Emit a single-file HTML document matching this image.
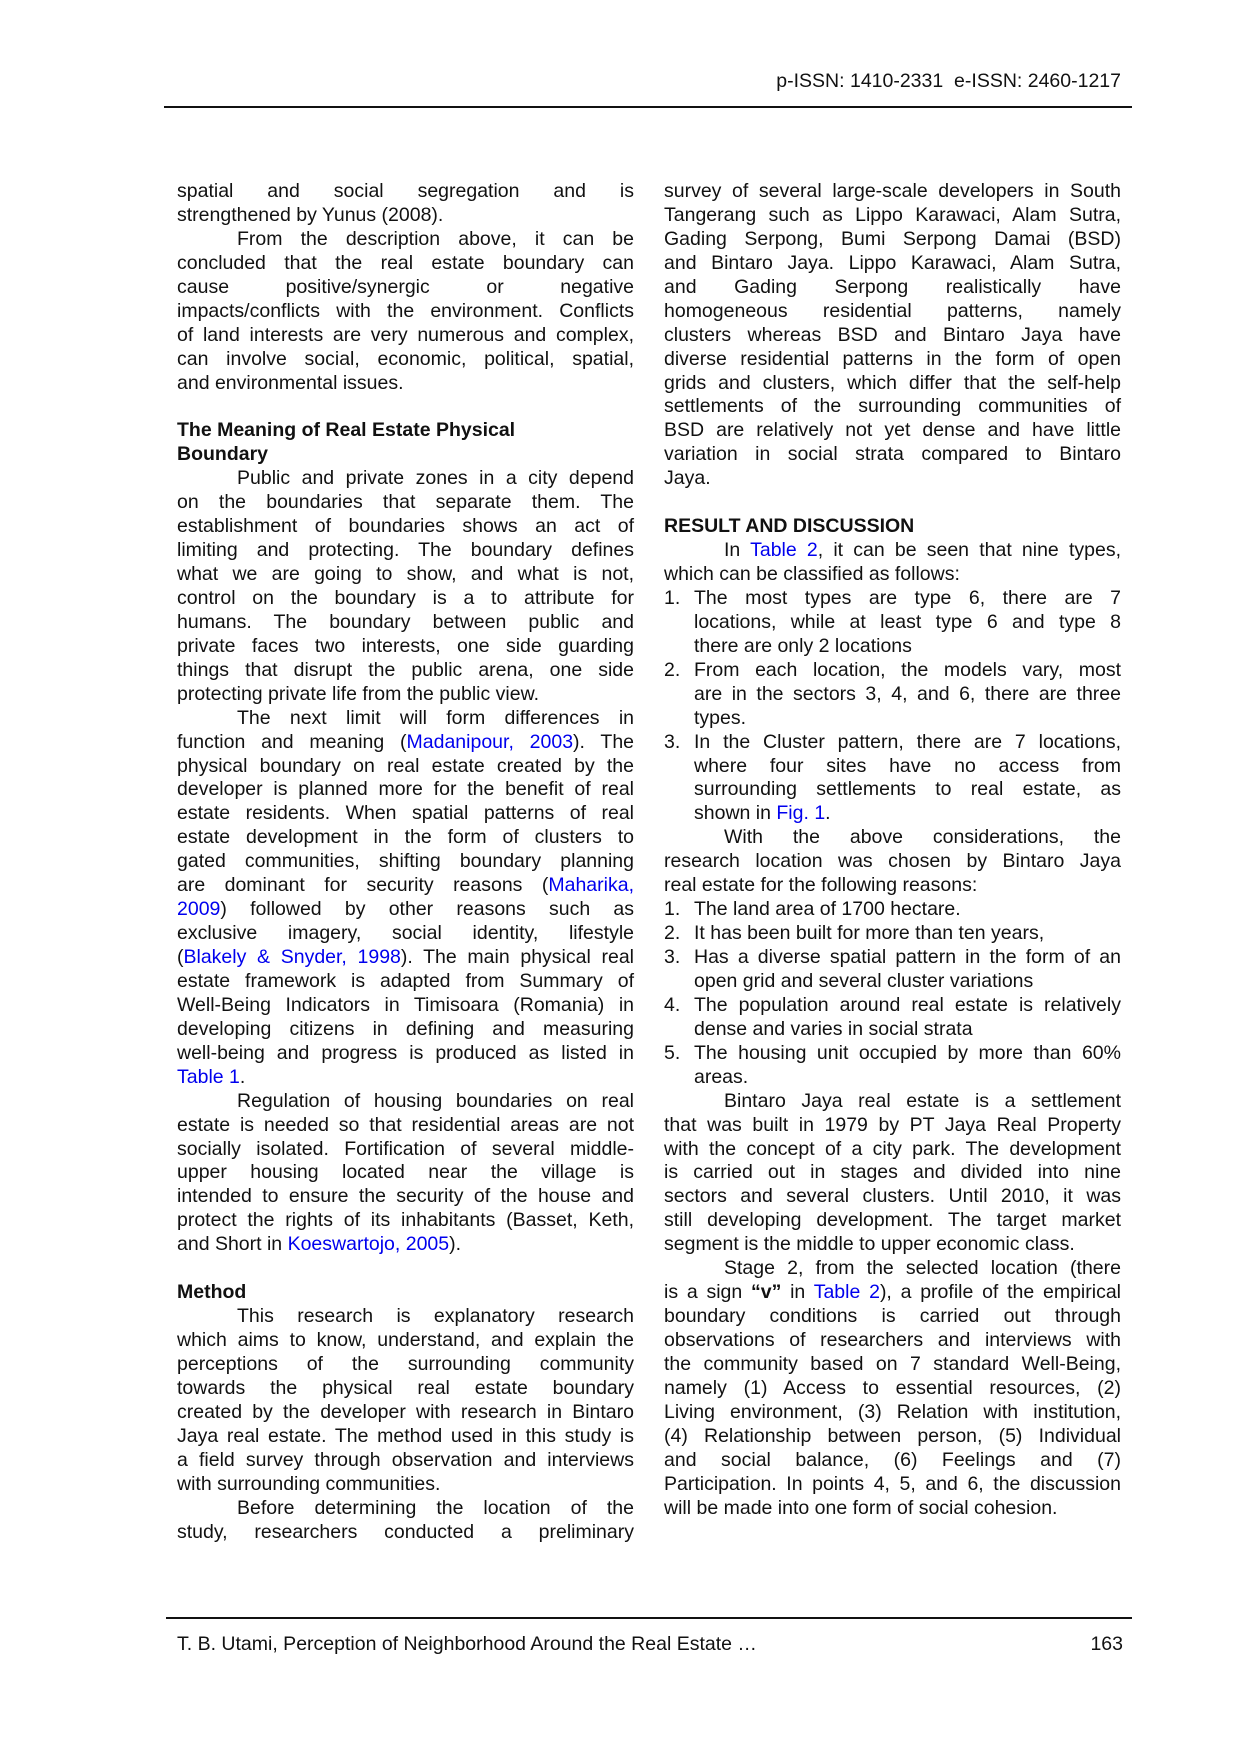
<!DOCTYPE html>
<html><head><meta charset="utf-8">
<style>
html,body{margin:0;padding:0;background:#fff;}
body{width:1240px;height:1754px;position:relative;overflow:hidden;font-family:"Liberation Sans",Arial,sans-serif;color:#111;}
.hdr{position:absolute;top:70px;right:119px;font-size:19.5px;}
.rule{position:absolute;height:2px;background:#111;}
.col{position:absolute;top:180px;width:457px;font-size:19.5px;line-height:23.95px;}
.col div{height:23.95px;white-space:nowrap;overflow:visible;}
.j{text-align:justify;text-align-last:justify;white-space:normal!important;}
.ind{padding-left:60px;}
.li{padding-left:30px;position:relative;}
.li span.n{position:absolute;left:0;}
.b{font-weight:bold;}
a{color:#0000ee;text-decoration:none;}
.ft{position:absolute;top:1633px;font-size:19.5px;}
</style></head><body>
<div class="hdr">p-ISSN: 1410-2331&nbsp; e-ISSN: 2460-1217</div>
<div class="rule" style="left:164px;width:968px;top:106px;"></div>

<div class="col" style="left:177px;">
<div class="j">spatial and social segregation and is</div>
<div>strengthened by Yunus (2008).</div>
<div class="j ind">From the description above, it can be</div>
<div class="j">concluded that the real estate boundary can</div>
<div class="j">cause positive/synergic or negative</div>
<div class="j">impacts/conflicts with the environment. Conflicts</div>
<div class="j">of land interests are very numerous and complex,</div>
<div class="j">can involve social, economic, political, spatial,</div>
<div>and environmental issues.</div>
<div></div>
<div class="b">The Meaning of Real Estate Physical</div>
<div class="b">Boundary</div>
<div class="j ind">Public and private zones in a city depend</div>
<div class="j">on the boundaries that separate them. The</div>
<div class="j">establishment of boundaries shows an act of</div>
<div class="j">limiting and protecting. The boundary defines</div>
<div class="j">what we are going to show, and what is not,</div>
<div class="j">control on the boundary is a to attribute for</div>
<div class="j">humans. The boundary between public and</div>
<div class="j">private faces two interests, one side guarding</div>
<div class="j">things that disrupt the public arena, one side</div>
<div>protecting private life from the public view.</div>
<div class="j ind">The next limit will form differences in</div>
<div class="j">function and meaning (<a>Madanipour, 2003</a>). The</div>
<div class="j">physical boundary on real estate created by the</div>
<div class="j">developer is planned more for the benefit of real</div>
<div class="j">estate residents. When spatial patterns of real</div>
<div class="j">estate development in the form of clusters to</div>
<div class="j">gated communities, shifting boundary planning</div>
<div class="j">are dominant for security reasons (<a>Maharika,</a></div>
<div class="j"><a>2009</a>) followed by other reasons such as</div>
<div class="j">exclusive imagery, social identity, lifestyle</div>
<div class="j">(<a>Blakely &amp; Snyder, 1998</a>). The main physical real</div>
<div class="j">estate framework is adapted from Summary of</div>
<div class="j">Well-Being Indicators in Timisoara (Romania) in</div>
<div class="j">developing citizens in defining and measuring</div>
<div class="j">well-being and progress is produced as listed in</div>
<div><a>Table 1</a>.</div>
<div class="j ind">Regulation of housing boundaries on real</div>
<div class="j">estate is needed so that residential areas are not</div>
<div class="j">socially isolated. Fortification of several middle-</div>
<div class="j">upper housing located near the village is</div>
<div class="j">intended to ensure the security of the house and</div>
<div class="j">protect the rights of its inhabitants (Basset, Keth,</div>
<div>and Short in <a>Koeswartojo, 2005</a>).</div>
<div></div>
<div class="b">Method</div>
<div class="j ind">This research is explanatory research</div>
<div class="j">which aims to know, understand, and explain the</div>
<div class="j">perceptions of the surrounding community</div>
<div class="j">towards the physical real estate boundary</div>
<div class="j">created by the developer with research in Bintaro</div>
<div class="j">Jaya real estate. The method used in this study is</div>
<div class="j">a field survey through observation and interviews</div>
<div>with surrounding communities.</div>
<div class="j ind">Before determining the location of the</div>
<div class="j">study, researchers conducted a preliminary</div>
</div>

<div class="col" style="left:664px;">
<div class="j">survey of several large-scale developers in South</div>
<div class="j">Tangerang such as Lippo Karawaci, Alam Sutra,</div>
<div class="j">Gading Serpong, Bumi Serpong Damai (BSD)</div>
<div class="j">and Bintaro Jaya. Lippo Karawaci, Alam Sutra,</div>
<div class="j">and Gading Serpong realistically have</div>
<div class="j">homogeneous residential patterns, namely</div>
<div class="j">clusters whereas BSD and Bintaro Jaya have</div>
<div class="j">diverse residential patterns in the form of open</div>
<div class="j">grids and clusters, which differ that the self-help</div>
<div class="j">settlements of the surrounding communities of</div>
<div class="j">BSD are relatively not yet dense and have little</div>
<div class="j">variation in social strata compared to Bintaro</div>
<div>Jaya.</div>
<div></div>
<div class="b">RESULT AND DISCUSSION</div>
<div class="j ind">In <a>Table 2</a>, it can be seen that nine types,</div>
<div>which can be classified as follows:</div>
<div class="li"><span class="n">1.</span><div class="j">The most types are type 6, there are 7</div></div>
<div class="li"><div class="j">locations, while at least type 6 and type 8</div></div>
<div class="li">there are only 2 locations</div>
<div class="li"><span class="n">2.</span><div class="j">From each location, the models vary, most</div></div>
<div class="li"><div class="j">are in the sectors 3, 4, and 6, there are three</div></div>
<div class="li">types.</div>
<div class="li"><span class="n">3.</span><div class="j">In the Cluster pattern, there are 7 locations,</div></div>
<div class="li"><div class="j">where four sites have no access from</div></div>
<div class="li"><div class="j">surrounding settlements to real estate, as</div></div>
<div class="li">shown in <a>Fig. 1</a>.</div>
<div class="j ind">With the above considerations, the</div>
<div class="j">research location was chosen by Bintaro Jaya</div>
<div>real estate for the following reasons:</div>
<div class="li"><span class="n">1.</span>The land area of 1700 hectare.</div>
<div class="li"><span class="n">2.</span>It has been built for more than ten years,</div>
<div class="li"><span class="n">3.</span><div class="j">Has a diverse spatial pattern in the form of an</div></div>
<div class="li">open grid and several cluster variations</div>
<div class="li"><span class="n">4.</span><div class="j">The population around real estate is relatively</div></div>
<div class="li">dense and varies in social strata</div>
<div class="li"><span class="n">5.</span><div class="j">The housing unit occupied by more than 60%</div></div>
<div class="li">areas.</div>
<div class="j ind">Bintaro Jaya real estate is a settlement</div>
<div class="j">that was built in 1979 by PT Jaya Real Property</div>
<div class="j">with the concept of a city park. The development</div>
<div class="j">is carried out in stages and divided into nine</div>
<div class="j">sectors and several clusters. Until 2010, it was</div>
<div class="j">still developing development. The target market</div>
<div>segment is the middle to upper economic class.</div>
<div class="j ind">Stage 2, from the selected location (there</div>
<div class="j">is a sign <b>“v”</b> in <a>Table 2</a>), a profile of the empirical</div>
<div class="j">boundary conditions is carried out through</div>
<div class="j">observations of researchers and interviews with</div>
<div class="j">the community based on 7 standard Well-Being,</div>
<div class="j">namely (1) Access to essential resources, (2)</div>
<div class="j">Living environment, (3) Relation with institution,</div>
<div class="j">(4) Relationship between person, (5) Individual</div>
<div class="j">and social balance, (6) Feelings and (7)</div>
<div class="j">Participation. In points 4, 5, and 6, the discussion</div>
<div>will be made into one form of social cohesion.</div>
</div>

<div class="rule" style="left:166px;width:966px;top:1617px;"></div>
<div class="ft" style="left:177px;">T. B. Utami, Perception of Neighborhood Around the Real Estate …</div>
<div class="ft" style="right:117px;">163</div>
</body></html>
